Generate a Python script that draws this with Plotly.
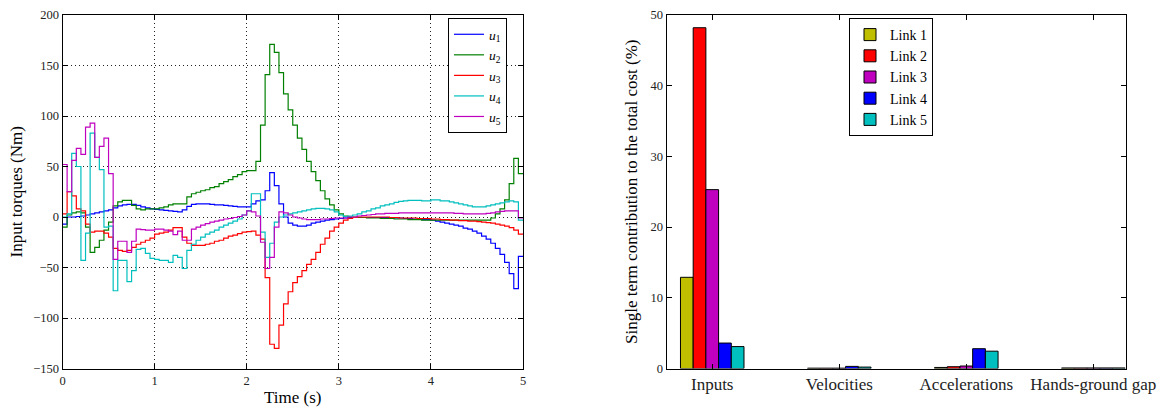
import plotly.graph_objects as go

# time grid (step-wise controls, dt = 0.05 s)
t = [round(0.05 * i, 2) for i in range(101)]

u1 = [-7, 0, 0, 0.5, 1, 2, 3, 4, 5, 6, 7, 9, 11, 12, 12.5, 12.5, 11.5, 10, 9, 8,
      7.5, 7, 6.5, 6, 5.5, 5, 7, 10.5, 12.5, 13, 13, 13, 12.5, 12, 12, 11.5, 11, 10.5, 10, 10,
      10, 13, 16, 17, 26, 44, 31, 13, 0, -6, -8, -9, -9, -8, -6, -5, -4, -3, -2.5, -2,
      -1.5, -1, -0.5, -0.5, -0.5, -0.5, -0.5, -0.5, -0.5, -0.5, -0.5, -1, -1, -1, -1.5, -1.5, -2, -2, -2.5, -2.5,
      -3, -4, -5, -6, -7, -8, -9, -11, -12, -14, -16, -19, -22, -26, -31, -37, -45, -56, -71, -39]
u2 = [-10, 2, 4, 5, 4, -10, -35, -30, -23, -13, -5, 11, 15, 16.5, 16.5, 11.5, 8, 7, 8, 8,
      8, 9, 10, 12, 13, 13, 13, 20, 23, 24.5, 26, 27, 29, 30, 33, 35, 37, 40, 42, 45,
      46, 46, 55, 91, 141, 171, 163, 143, 122, 106, 91, 78, 67, 55, 45, 36, 26, 18, 12, 7,
      3, 1, 0, 0, -0.5, -0.5, -1, -1, -1, -1.5, -1.5, -1.5, -2, -2, -2, -2.5, -2.5, -2.5, -3, -3,
      -3, -3, -3, -3, -3, -3, -3, -3, -3, -3, -3, -3, -3, -1, 3, 8, 17, 33, 58, 43]
u3 = [3, 25, 21, 8, 6, -7, -15, -14, -14, -16, -20, -31, -33, -34, -33, -30, -27, -25, -23, -21,
      -17, -16, -15, -13, -10.5, -10.5, -20, -26, -28, -28, -28, -27, -26, -24, -23, -21, -19, -18, -16.5, -15,
      -14.5, -14, -18, -22, -60, -126, -130, -107, -86, -74, -65, -59, -53, -47, -42, -35, -27, -21, -14, -10,
      -6, -3, -1.5, -0.5, 0, 0, 0, 0, 0, 0, 0, -0.5, -0.5, -1, -1, -1, -1, -1.5, -1.5, -1.5,
      -2, -2, -2.5, -2.5, -3, -3, -3.5, -3.5, -4, -4, -4.5, -5, -5.5, -6, -7, -8, -9, -10.5, -13, -17]
u4 = [0, 3, 63, 50, -43, -16, 83, 59, 47, -10, -9, -73, -43, -43, -64, -53, -32, -31, -36, -41,
      -42, -43, -43, -45, -38, -40, -51, -33, -27, -23, -20, -17, -15, -13, -10, -8, -6, -4, -2, 2,
      6, 23, 23, -15, -40, -26, -5, 0, 2, 3, 4, 5, 6, 7, 8, 8.5, 8.5, 8, 7, 5,
      2, 0.5, 1, 2, 3, 5, 6, 8, 9, 11, 12, 13, 14.5, 15.5, 16, 16.5, 16.5, 16.5, 16, 16,
      17, 17, 16, 16, 15, 14, 13, 12, 11, 10, 10, 10, 11, 12, 13, 14, 15, 16, 15, -3]
u5 = [52, 25, 56, 68, 62, 89, 93, 59, 70, 78, 43, -42, -24, -24, -35, -24, -12, -12.5, -13, -13,
      -12, -12, -13, -14, -17.5, -14, -23, -23, -12, -10, -8, -6.5, -5, -4, -3, -2, -1.5, -0.5, 0.5, 2,
      6, 5, 1, -25, -51, -40, -10, 5, 4, 2, 0, -1, -2, -2.5, -2.5, -2.5, -2, -2, -1.5, -1,
      -1, -1, 0, 0, 1, 1.5, 2, 2.5, 3, 3, 3.5, 3.5, 3.5, 4, 4, 4, 4, 4, 4, 4,
      4, 4, 4, 4, 4, 3.5, 3.5, 3, 3, 3, 3, 3, 3.5, 4, 5, 5.5, 6, 6, 6, -1]

line_names = ["<i>u</i><sub>1</sub>", "<i>u</i><sub>2</sub>", "<i>u</i><sub>3</sub>",
              "<i>u</i><sub>4</sub>", "<i>u</i><sub>5</sub>"]
line_colors = ["#0000ff", "#008000", "#ff0000", "#00bfbf", "#bf00bf"]

categories = ["Inputs", "Velocities", "Accelerations", "Hands-ground gap"]
link1 = [12.9, 0.05, 0.15, 0.08]
link2 = [48.2, 0.05, 0.25, 0.08]
link3 = [25.3, 0.05, 0.35, 0.08]
link4 = [3.6, 0.3, 2.8, 0.08]
link5 = [3.1, 0.2, 2.45, 0.08]
bar_names = ["Link 1", "Link 2", "Link 3", "Link 4", "Link 5"]
bar_colors = ["#bfbf00", "#ff0000", "#bf00bf", "#0000ff", "#00bfbf"]

FONT = "Liberation Serif"
W, H = 1164, 408

fig = go.Figure()
for name, vals, col in zip(line_names, [u1, u2, u3, u4, u5], line_colors):
    fig.add_trace(go.Scatter(
        x=t, y=vals + [vals[-1]], mode="lines", name=name,
        line=dict(color=col, width=1.2, shape="hv"),
        xaxis="x", yaxis="y", legend="legend"))

for name, vals, col in zip(bar_names, [link1, link2, link3, link4, link5], bar_colors):
    fig.add_trace(go.Bar(
        x=categories, y=vals, name=name,
        marker=dict(color=col, line=dict(color="black", width=1)),
        xaxis="x2", yaxis="y2", legend="legend2"))

y_dom = [1 - 368.5 / H, 1 - 15 / H]
tickfont = dict(family=FONT, size=12.5, color="#222")
axis_common = dict(showline=True, linecolor="black", linewidth=1, mirror="allticks",
                   ticks="inside", ticklen=5, tickcolor="black", zeroline=False,
                   automargin=False, tickfont=tickfont)
grid = dict(showgrid=True, gridcolor="#222", griddash="1px,3px", gridwidth=1)
title_font = dict(family=FONT, size=17, color="black")

fig.update_layout(
    width=W, height=H, margin=dict(l=0, r=0, t=0, b=0),
    paper_bgcolor="white", plot_bgcolor="white",
    font=dict(family=FONT, color="black"),
    barmode="group", bargap=0.5, bargroupgap=0,
    xaxis=dict(domain=[62.5 / W, 523 / W], range=[0, 5], dtick=1,
               title=dict(text="Time (s)", font=title_font, standoff=4),
               **grid, **axis_common),
    yaxis=dict(domain=y_dom, range=[-150, 200], dtick=50,
               title=dict(text="Input torques (Nm)", font=title_font, standoff=6),
               **grid, **axis_common),
    xaxis2=dict(domain=[666.5 / W, 1126 / W], range=[-0.36, 3.257], anchor="y2",
                showgrid=False,
                **{**axis_common, "tickfont": dict(family=FONT, size=17, color="#222")}),
    yaxis2=dict(domain=y_dom, range=[0, 50], dtick=10, anchor="x2", showgrid=False,
                title=dict(text="Single term contribution to the total cost (%)",
                           font=title_font, standoff=8),
                **axis_common),
    legend=dict(x=448 / W, y=1 - 18 / H, xanchor="left", yanchor="top",
                bgcolor="white", bordercolor="black", borderwidth=1,
                font=dict(family=FONT, size=13.5), itemwidth=30, tracegroupgap=0),
    legend2=dict(x=849 / W, y=1 - 18 / H, xanchor="left", yanchor="top",
                 bgcolor="white", bordercolor="black", borderwidth=1,
                 font=dict(family=FONT, size=14), itemwidth=30, tracegroupgap=0),
    showlegend=True,
)

fig.write_html("out.html")
